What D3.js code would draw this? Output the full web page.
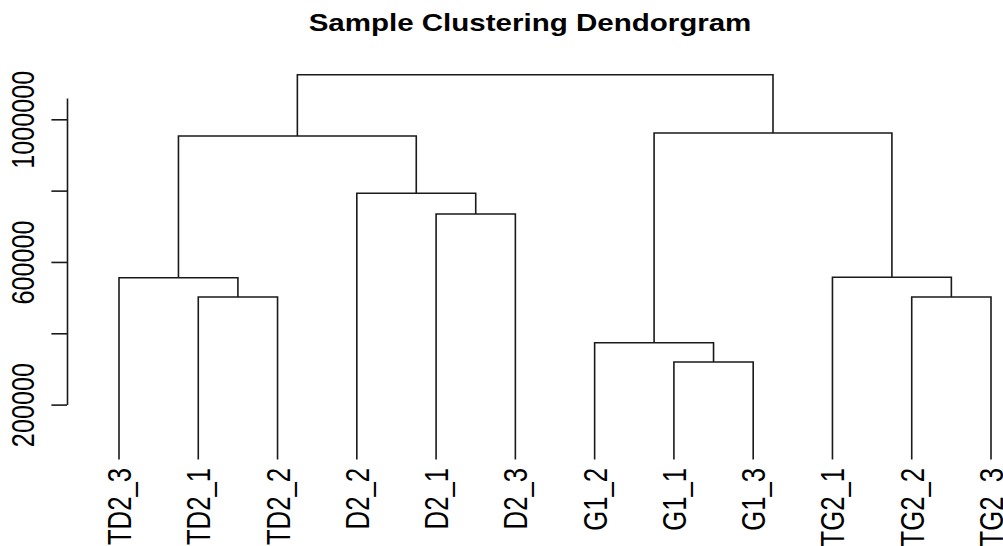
<!DOCTYPE html>
<html>
<head>
<meta charset="utf-8">
<script src="https://cdn.jsdelivr.net/npm/d3@7"></script>
<style>
  html, body { margin: 0; padding: 0; background: #fff; }
  svg { display: block; font-family: "Liberation Sans", Arial, sans-serif; }
</style>
</head>
<body>
<svg id="chart" width="1003" height="546"></svg>
<script>
// ---- data ----
const leafLabels = ["TD2_3","TD2_1","TD2_2","D2_2","D2_1","D2_3","G1_2","G1_1","G1_3","TG2_1","TG2_2","TG2_3"];
// hclust-style merges: negative = leaf (1-based index into leafLabels), positive = earlier merge step
const mergeLeft   = [-8, -7, -2, -11, -1, -10, -5, -4, 5, 2, 9];
const mergeRight  = [-9,  1, -3, -12,  3,   4, -6,  7, 8, 6, 10];
const mergeHeights = [319500, 373600, 501700, 501700, 555800, 557000, 734500, 792500, 953000, 961600, 1125000];
const leafHeight = 46000;
const tickValues = [200000, 400000, 600000, 800000, 1000000];
const tickLabels = ["200000", "", "600000", "", "1000000"];
const titleText = "Sample Clustering Dendorgram";
const axisTopValue = 1060000;

// ---- build tree ----
function buildNode(ref) {
  if (ref < 0) return { name: leafLabels[-ref - 1], height: leafHeight, leaf: -ref - 1 };
  const i = ref - 1;
  return { height: mergeHeights[i], children: [buildNode(mergeLeft[i]), buildNode(mergeRight[i])] };
}
const root = d3.hierarchy(buildNode(mergeHeights.length));

// ---- scales ----
const xStretch = 1.28;
const x = d3.scalePoint().domain(leafLabels).range([119, 991]);
const y = d3.scaleLinear().domain([200000, 1000000]).range([404.6, 119.3]);

// position nodes: leaves by point scale, internal nodes at midpoint of children
root.eachAfter(n => {
  if (!n.children) n.px = x(n.data.name);
  else n.px = d3.mean(n.children, c => c.px);
  n.py = y(n.data.height);
});

const svg = d3.select("#chart");
const stroke = "#1a1a1a";

// ---- dendrogram segments ----
const g = svg.append("g").attr("fill", "none").attr("stroke", stroke).attr("stroke-width", 1.6);
root.descendants().filter(n => n.children).forEach(n => {
  const [a, b] = n.children;
  g.append("path").attr("d", `M${a.px},${a.py}V${n.py}H${b.px}V${b.py}`);
});

// ---- leaf labels ----
svg.append("g").selectAll("text").data(root.leaves()).join("text")
  .attr("transform", d => `translate(${d.px + 12},468) scale(${xStretch},1) rotate(-90)`)
  .attr("text-anchor", "end")
  .attr("font-size", 25.7)
  .attr("fill", "#000")
  .text(d => d.data.name);

// ---- y axis ----
const yAxisScale = y.copy().domain([200000, axisTopValue]).range([y(200000), y(axisTopValue)]);
const axisG = svg.append("g").attr("transform", "translate(67,0)")
  .call(d3.axisLeft(yAxisScale).tickValues(tickValues)
        .tickFormat((d, i) => tickLabels[i]).tickSize(15.6).tickSizeOuter(0));
axisG.select(".domain").attr("stroke", stroke).attr("stroke-width", 1.6);
axisG.selectAll(".tick line").attr("stroke", stroke).attr("stroke-width", 1.6);
axisG.selectAll(".tick text")
  .attr("x", null).attr("dy", null)
  .attr("transform", `translate(-33.5,0) scale(${xStretch * 0.95},1) rotate(-90)`)
  .attr("text-anchor", "middle")
  .attr("font-size", 25.2)
  .attr("font-family", "Liberation Sans, Arial, sans-serif")
  .attr("fill", "#000");

// ---- title ----
svg.append("text")
  .attr("transform", `translate(530,31) scale(1.23,1)`)
  .attr("text-anchor", "middle")
  .attr("font-weight", "bold")
  .attr("font-size", 24)
  .attr("fill", "#000")
  .text(titleText);
</script>
</body>
</html>
